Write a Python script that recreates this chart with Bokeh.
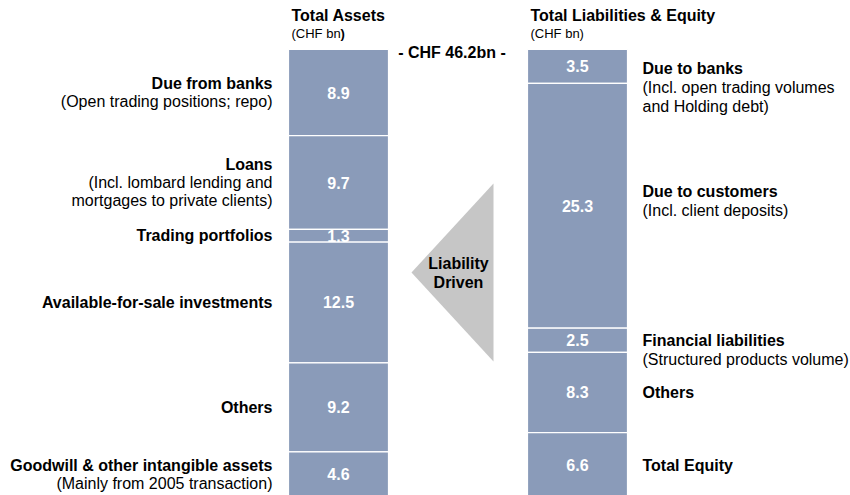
from bokeh.plotting import figure
from bokeh.models import Range1d
from bokeh.embed import file_html
from bokeh.resources import INLINE
from bokeh.core.properties import value

# ---------------- data ----------------
titles = ["Total Assets", "Total Liabilities & Equity"]
unit_label = "(CHF bn"
total_label = "- CHF 46.2bn -"
arrow_label = ["Liability", "Driven"]

asset_names = ["Due from banks", "Loans", "Trading portfolios",
               "Available-for-sale investments", "Others",
               "Goodwill & other intangible assets"]
asset_notes = [["(Open trading positions; repo)"],
               ["(Incl. lombard lending and", "mortgages to private clients)"],
               [], [], [],
               ["(Mainly from 2005 transaction)"]]
asset_values = [8.9, 9.7, 1.3, 12.5, 9.2, 4.6]

liab_names = ["Due to banks", "Due to customers", "Financial liabilities",
              "Others", "Total Equity"]
liab_notes = [["(Incl. open trading volumes", "and Holding debt)"],
              ["(Incl. client deposits)"],
              ["(Structured products volume)"],
              [], []]
liab_values = [3.5, 25.3, 2.5, 8.3, 6.6]

# ---------------- layout / style ----------------
W, H = 850, 495
X0, X1 = -1.4142, 2.1423
Y0, Y1 = 0.10, 51.265
PXX = W / (X1 - X0)
PXY = H / (Y1 - Y0)
BW = 100 / PXX
BAR_COLOR = "#8a9bb9"
ARROW_COLOR = "#c6c6c6"
FONT = value("Liberation Sans")
FS = "16px"
FS_SMALL = "13px"
LEFT_X, RIGHT_X = 0, 1
LEFT_LS = 18
RIGHT_LS = 19
right_first_offset = [2, -14, 0, 0, 1]
ARROW_TOP, ARROW_BOTTOM = 32.35, 13.95

p = figure(width=W, height=H, output_backend="svg", toolbar_location=None,
           x_range=Range1d(X0, X1), y_range=Range1d(Y0, Y1), min_border=0)
p.xaxis.visible = False
p.yaxis.visible = False
p.grid.visible = False
p.outline_line_color = None
p.background_fill_color = "white"
p.border_fill_color = "white"


def dy(px):
    return px / PXY


def dx(px):
    return px / PXX


def stack(vals):
    total = sum(vals)
    tops, bottoms = [], []
    t = total
    for v in vals:
        tops.append(t)
        bottoms.append(t - v)
        t -= v
    return tops, bottoms, total


def txt(x, y, s, bold=False, size=FS, color="black", align="left"):
    p.text(x=[x], y=[y], text=[s], text_font=FONT, text_font_size=size,
           text_font_style="bold" if bold else "normal", text_color=color,
           text_align=align, text_baseline="middle")


a_tops, a_bots, total = stack(asset_values)
l_tops, l_bots, _ = stack(liab_values)

# bars
p.vbar(x=[LEFT_X] * len(asset_values), top=a_tops, bottom=a_bots, width=BW,
       fill_color=BAR_COLOR, line_color="white", line_width=1.2)
p.vbar(x=[RIGHT_X] * len(liab_values), top=l_tops, bottom=l_bots, width=BW,
       fill_color=BAR_COLOR, line_color="white", line_width=1.2)

# values in bars
for t, b, v in zip(a_tops, a_bots, asset_values):
    txt(LEFT_X, (t + b) / 2, f"{v:.1f}", bold=True, color="white", align="center")
for t, b, v in zip(l_tops, l_bots, liab_values):
    txt(RIGHT_X, (t + b) / 2, f"{v:.1f}", bold=True, color="white", align="center")

# left labels (right aligned, block centred on segment)
lx = LEFT_X - BW / 2 - dx(16)
for t, b, name, notes in zip(a_tops, a_bots, asset_names, asset_notes):
    c = (t + b) / 2
    lines = [name] + notes
    n = len(lines)
    for i, s in enumerate(lines):
        off = (i - (n - 1) / 2) * LEFT_LS
        txt(lx, c - dy(off), s, bold=(i == 0), align="right")

# right labels
rx = RIGHT_X + BW / 2 + dx(15)
for t, b, name, notes, fo in zip(l_tops, l_bots, liab_names, liab_notes, right_first_offset):
    c = (t + b) / 2
    lines = [name] + notes
    for i, s in enumerate(lines):
        off = fo + i * RIGHT_LS
        txt(rx, c - dy(off), s, bold=(i == 0), align="left")

# titles
for bx, title in zip([LEFT_X, RIGHT_X], titles):
    tx = bx - BW / 2 + dx(3)
    txt(tx, total + dy(34), title, bold=True)
    txt(tx, total + dy(16), unit_label, size=FS_SMALL)
# closing bracket (bold on the left, normal on the right)
txt(LEFT_X - BW / 2 + dx(3) + dx(49), total + dy(16), ")", bold=True, size=FS_SMALL)
txt(RIGHT_X - BW / 2 + dx(3) + dx(49), total + dy(16), ")", size=FS_SMALL)

# total label
txt((LEFT_X + RIGHT_X) / 2 - dx(6), total - dy(3), total_label, bold=True, align="center")

# arrow triangle
ar_right = RIGHT_X - BW / 2 - dx(34)
ar_left = ar_right - dx(82)
ar_mid = (ARROW_TOP + ARROW_BOTTOM) / 2
p.patch(x=[ar_right, ar_right, ar_left], y=[ARROW_TOP, ARROW_BOTTOM, ar_mid],
        fill_color=ARROW_COLOR, line_color=None)
for i, s in enumerate(arrow_label):
    txt(ar_right - dx(35), ar_mid - dy((i - 0.5) * 19), s, bold=True, align="center")

open("out.html", "w").write(file_html(p, INLINE))
